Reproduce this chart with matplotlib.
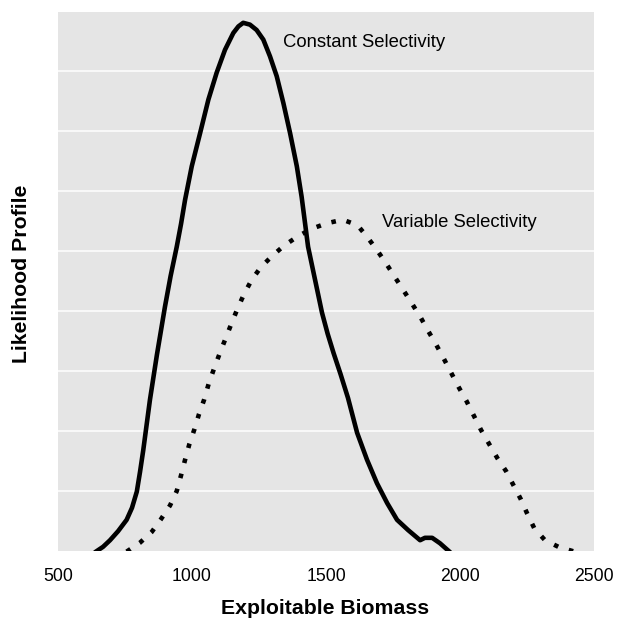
import matplotlib
matplotlib.use('Agg')
from matplotlib import pyplot as plt

plt.rcParams['font.family'] = ['Liberation Sans', 'DejaVu Sans']

# Perfil de verossimilhança - seletividade constante (linha sólida)
biomassa_const = [638, 668, 694, 724, 756, 776, 794, 806, 818, 843, 869, 899, 920, 943, 959,
                  974, 999, 1030, 1061, 1092, 1123, 1154, 1173, 1191, 1216, 1241, 1266,
                  1291, 1316, 1341, 1366, 1391, 1409, 1433, 1459, 1485, 1506, 1528, 1554,
                  1582, 1616, 1653, 1690, 1728, 1765, 1806, 1851, 1869, 1896, 1925, 1963]
perfil_const = [-0.02, 0.07, 0.18, 0.33, 0.52, 0.72, 0.99, 1.32, 1.68, 2.52, 3.27, 4.07, 4.58,
                5.07, 5.45, 5.85, 6.41, 6.96, 7.52, 7.97, 8.35, 8.63, 8.74, 8.8, 8.77, 8.68,
                8.52, 8.24, 7.91, 7.46, 6.96, 6.41, 5.9, 5.07, 4.52, 3.97, 3.62, 3.3, 2.95,
                2.55, 1.97, 1.52, 1.13, 0.8, 0.52, 0.35, 0.18, 0.22, 0.22, 0.13, -0.02]

# Perfil de verossimilhança - seletividade variável (linha pontilhada)
biomassa_var = [756, 806, 850, 884, 918, 943, 959, 974, 990, 1009, 1026, 1045, 1063, 1083,
                1104, 1126, 1148, 1169, 1194, 1223, 1257, 1300, 1344, 1394, 1447, 1503,
                1562, 1617, 1654, 1689, 1723, 1756, 1788, 1821, 1852, 1882, 1912, 1940,
                1968, 1995, 2024, 2051, 2078, 2109, 2139, 2172, 2199, 2226, 2251, 2277,
                2317, 2367, 2427]
perfil_var = [-0.01, 0.14, 0.32, 0.53, 0.76, 1.0, 1.26, 1.52, 1.78, 2.03, 2.28, 2.52, 2.8, 3.05,
              3.3, 3.55, 3.8, 4.03, 4.28, 4.52, 4.73, 4.92, 5.09, 5.24, 5.37, 5.46,
              5.52, 5.43, 5.23, 5.02, 4.8, 4.57, 4.35, 4.12, 3.9, 3.66, 3.43, 3.2,
              2.96, 2.73, 2.5, 2.26, 2.02, 1.78, 1.55, 1.33, 1.1, 0.87, 0.62, 0.38,
              0.18, 0.07, -0.01]

xticks = [500, 1000, 1500, 2000, 2500]
ygrid = [1, 2, 3, 4, 5, 6, 7, 8]

fig = plt.figure(figsize=(6.18, 6.22), dpi=100)
ax = fig.add_axes([0.0939, 0.1141, 0.8673, 0.8666])
ax.set_facecolor('#e5e5e5')

ax.plot(biomassa_const, perfil_const, color='black', lw=3.3,
        solid_joinstyle='round', solid_capstyle='round')
ax.plot(biomassa_var, perfil_var, color='black', lw=3.3,
        linestyle=(0, (1, 2.4)), dash_capstyle='butt')

ax.text(1340, 8.47, 'Constant Selectivity', fontsize=13.3, va='center', ha='left')
ax.text(1709, 5.47, 'Variable Selectivity', fontsize=13.3, va='center', ha='left')

ax.set_xlim(500, 2500)
ax.set_ylim(0, 8.98)
ax.set_xticks(xticks)
ax.set_yticks(ygrid)
ax.set_yticklabels([])
ax.tick_params(length=0, labelsize=12.7, pad=12)
ax.grid(axis='y', color='white', lw=1.1)
ax.set_axisbelow(True)
for s in ax.spines.values():
    s.set_visible(False)

# rótulos dos eixos posicionados na figura
fig.text(325 / 618, 1 - 609 / 622, 'Exploitable Biomass', fontsize=15.3,
         fontweight='bold', ha='center', va='center')
fig.text(22 / 618, 1 - 274 / 622, 'Likelihood Profile', fontsize=15.3,
         fontweight='bold', ha='center', va='center', rotation=90)

fig.savefig('out.png', dpi=100)
